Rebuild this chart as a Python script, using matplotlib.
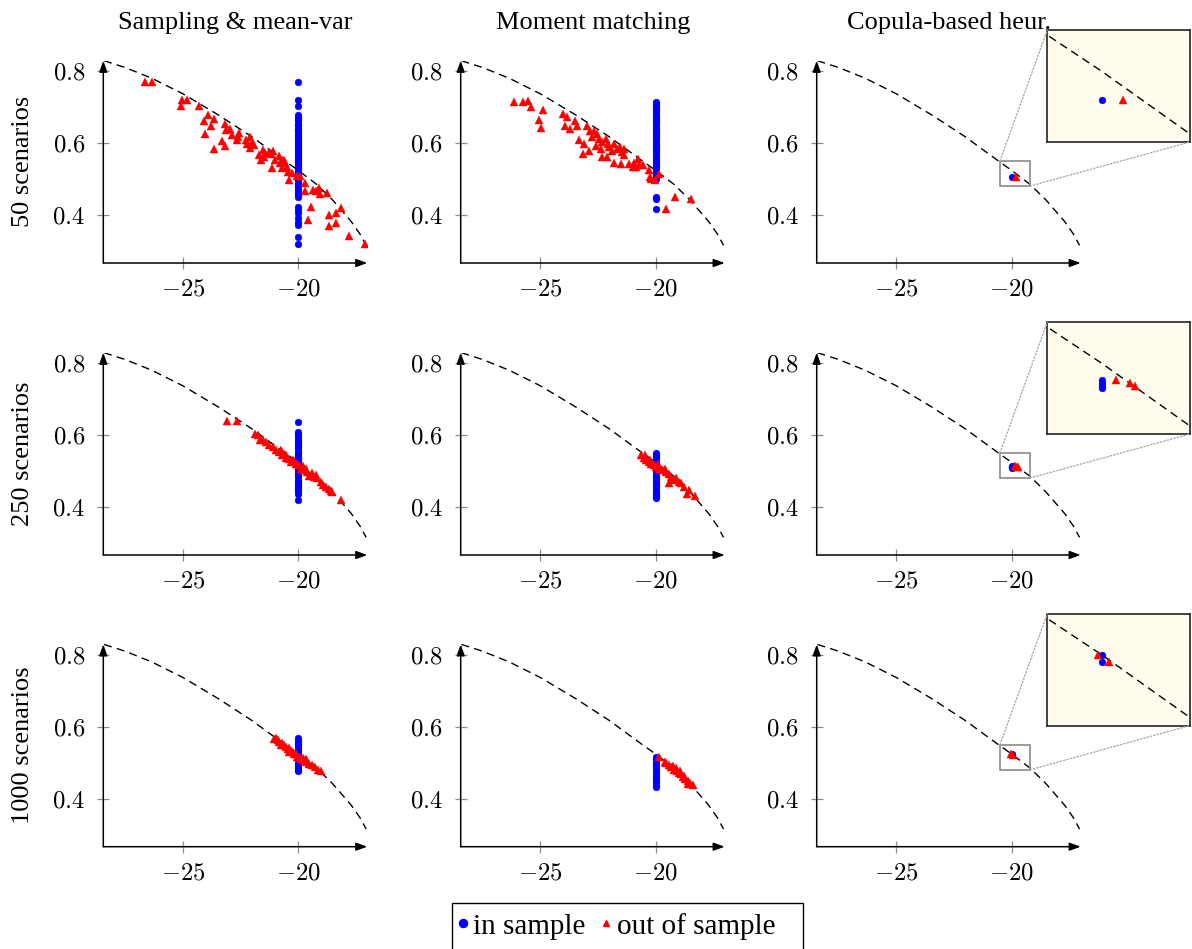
import numpy as np
import matplotlib
matplotlib.use("Agg")
import matplotlib.pyplot as plt
from matplotlib.patches import Rectangle, ConnectionPatch
from matplotlib.lines import Line2D

plt.rcParams['font.family'] = ['Liberation Serif', 'DejaVu Serif']
plt.rcParams['mathtext.fontset'] = 'cm'

# ---------------- data ----------------
col_titles = ["Sampling & mean-var", "Moment matching", "Copula-based heur."]
row_labels = ["50 scenarios", "250 scenarios", "1000 scenarios"]
x_ticks = [-25, -20]
y_ticks = [0.4, 0.6, 0.8]
x_limits = (-28.45, -17.0)
y_limits = (0.266, 0.829)
zoom_xlim = (-20.5, -19.2)
zoom_ylim = (0.48, 0.55)
in_sample_x = -20.0
legend_labels = ["in sample", "out of sample"]

frontier_x = [-28.42, -27.5, -26.34, -25.0, -23.46, -22.0, -21.0, -20.46, -20.0,
              -19.2, -18.5, -17.69, -17.3, -17.05]
frontier_y = [0.829, 0.810, 0.780, 0.737, 0.678, 0.617, 0.570, 0.545, 0.524,
              0.485, 0.441, 0.381, 0.345, 0.315]

# 50 scenarios, sampling & mean-var
mv50_in_y = [0.769, 0.721, 0.702, 0.677, 0.671, 0.666, 0.660, 0.654, 0.649, 0.643, 0.637,
             0.632, 0.626, 0.620, 0.615, 0.609, 0.603, 0.598, 0.592, 0.586, 0.581, 0.575,
             0.569, 0.564, 0.558, 0.552, 0.547, 0.541, 0.535, 0.530, 0.524, 0.518, 0.513,
             0.507, 0.501, 0.496, 0.490, 0.484, 0.479, 0.473, 0.467, 0.462, 0.456, 0.450,
             0.422, 0.413, 0.404, 0.390, 0.381, 0.371, 0.339, 0.318]
mv50_out_x = [-26.66, -26.33, -25.03, -24.82, -25.06, -24.32, -24.08, -23.90, -23.65, -23.78,
              -24.04, -23.64, -23.17, -23.12, -22.95, -22.86, -23.29, -23.16, -22.62, -22.55,
              -22.66, -22.24, -22.10, -22.20, -21.98, -22.10, -21.92, -21.70, -21.53, -21.42,
              -21.46, -21.27, -21.16, -21.10, -21.59, -21.13, -20.99, -20.81, -20.71, -20.78,
              -20.68, -20.57, -20.50, -20.42, -20.38, -20.28, -20.61, -20.07, -19.93, -19.69,
              -19.69, -19.36, -19.43, -19.57, -19.22, -19.08, -19.05, -18.75, -18.65, -18.68,
              -18.37, -18.37, -18.13, -17.80, -17.10]
mv50_out_y = [0.771, 0.771, 0.721, 0.721, 0.703, 0.703, 0.661, 0.677, 0.668, 0.646,
              0.626, 0.584, 0.652, 0.637, 0.640, 0.621, 0.606, 0.592, 0.617, 0.628,
              0.607, 0.607, 0.617, 0.598, 0.600, 0.587, 0.594, 0.566, 0.580, 0.572,
              0.561, 0.575, 0.569, 0.578, 0.554, 0.529, 0.554, 0.563, 0.554, 0.543,
              0.529, 0.543, 0.533, 0.519, 0.496, 0.517, 0.552, 0.507, 0.507, 0.489,
              0.467, 0.470, 0.422, 0.385, 0.467, 0.476, 0.459, 0.461, 0.399, 0.369,
              0.378, 0.406, 0.418, 0.341, 0.319]

# 50 scenarios, moment matching
mm50_in_y = [0.715, 0.709, 0.703, 0.697, 0.691, 0.685, 0.679, 0.673, 0.667, 0.661, 0.655,
             0.649, 0.643, 0.637, 0.631, 0.625, 0.619, 0.613, 0.607, 0.601, 0.595, 0.589,
             0.583, 0.577, 0.571, 0.565, 0.559, 0.553, 0.547, 0.541, 0.535, 0.529, 0.523,
             0.517, 0.511, 0.505, 0.499, 0.451, 0.443, 0.416]
mm50_out_x = [-26.12, -25.73, -25.51, -25.41, -24.88, -25.04, -24.96, -24.01, -23.83, -23.91,
              -23.73, -23.50, -23.40, -23.32, -23.12, -23.13, -22.89, -22.96, -22.86, -22.74,
              -22.67, -22.52, -22.45, -22.57, -22.38, -22.30, -22.16, -22.08, -22.01, -22.33,
              -22.11, -21.87, -21.79, -21.69, -21.55, -21.46, -21.36, -21.36, -21.79, -21.50,
              -21.17, -20.99, -20.92, -20.85, -20.77, -20.70, -20.55, -20.29, -20.19, -20.04,
              -19.85, -19.56, -19.17, -18.44, -20.26]
mm50_out_y = [0.713, 0.713, 0.717, 0.701, 0.692, 0.664, 0.642, 0.680, 0.673, 0.646,
              0.639, 0.660, 0.648, 0.609, 0.598, 0.570, 0.579, 0.646, 0.634, 0.616,
              0.634, 0.625, 0.611, 0.593, 0.584, 0.602, 0.611, 0.598, 0.589, 0.561,
              0.561, 0.579, 0.598, 0.584, 0.589, 0.575, 0.584, 0.567, 0.544, 0.541,
              0.541, 0.533, 0.544, 0.533, 0.556, 0.538, 0.538, 0.524, 0.501, 0.498,
              0.513, 0.417, 0.451, 0.443, 0.506]

# 50 scenarios, copula-based heuristic
cb50_in_y = [0.506]
cb50_out_x = [-19.81]
cb50_out_y = [0.506]

# 250 scenarios, sampling & mean-var
mv250_in_y = [0.636, 0.608, 0.602, 0.596, 0.590, 0.584, 0.578, 0.572, 0.566, 0.560, 0.554,
              0.548, 0.542, 0.536, 0.530, 0.524, 0.518, 0.512, 0.506, 0.500, 0.494, 0.488,
              0.482, 0.476, 0.470, 0.464, 0.458, 0.452, 0.446, 0.440, 0.437, 0.419]
mv250_out_x = [-23.08, -22.65, -21.86, -21.76, -21.66, -21.54, -21.40, -21.25, -21.11, -20.97,
               -20.82, -20.75, -20.71, -20.61, -20.53, -20.53, -20.39, -20.32, -20.24, -20.17,
               -20.10, -20.03, -19.96, -19.88, -19.81, -19.74, -19.67, -19.60, -19.52, -19.38,
               -19.31, -19.24, -19.17, -19.02, -18.92, -18.80, -18.66, -18.59, -18.52, -18.16]
mv250_out_y = [0.639, 0.639, 0.604, 0.599, 0.585, 0.587, 0.581, 0.571, 0.567, 0.557,
               0.553, 0.557, 0.544, 0.548, 0.537, 0.544, 0.534, 0.525, 0.530, 0.528,
               0.519, 0.520, 0.516, 0.506, 0.513, 0.502, 0.506, 0.497, 0.485, 0.494,
               0.483, 0.488, 0.479, 0.469, 0.460, 0.456, 0.451, 0.444, 0.442, 0.419]

# 250 scenarios, moment matching
mm250_in_y = [0.550, 0.544, 0.538, 0.532, 0.526, 0.520, 0.514, 0.508, 0.502, 0.496, 0.490,
              0.484, 0.478, 0.472, 0.466, 0.460, 0.454, 0.448, 0.442, 0.436, 0.430, 0.426]
mm250_out_x = [-20.62, -20.52, -20.47, -20.40, -20.29, -20.26, -20.19, -20.07, -19.97, -19.90,
               -19.83, -19.71, -19.61, -19.54, -19.43, -19.40, -19.32, -19.25, -19.11, -18.99,
               -18.89, -18.75, -18.65, -18.56, -18.28]
mm250_out_y = [0.544, 0.537, 0.544, 0.531, 0.525, 0.530, 0.520, 0.516, 0.511, 0.519,
               0.506, 0.502, 0.506, 0.497, 0.491, 0.467, 0.483, 0.476, 0.481, 0.469,
               0.465, 0.456, 0.437, 0.446, 0.430]

# 250 scenarios, copula-based heuristic
cb250_in_y = [0.514, 0.512, 0.510, 0.509]
cb250_out_x = [-19.87, -19.75, -19.70]
cb250_out_y = [0.514, 0.512, 0.510]

# 1000 scenarios, sampling & mean-var
mv1000_in_y = [0.569, 0.563, 0.557, 0.551, 0.545, 0.539, 0.533, 0.527, 0.521, 0.515, 0.509,
               0.503, 0.497, 0.491, 0.485, 0.480, 0.477]
mv1000_out_x = [-21.04, -20.97, -20.89, -20.82, -20.71, -20.61, -20.53, -20.46, -20.39, -20.32,
                -20.24, -20.17, -20.10, -19.96, -19.88, -19.81, -19.74, -19.67, -19.60, -19.52,
                -19.38, -19.27, -19.12, -19.02, -20.75, -20.39, -20.03, -19.67]
mv1000_out_y = [0.566, 0.569, 0.562, 0.557, 0.554, 0.548, 0.543, 0.538, 0.541, 0.532,
                0.529, 0.525, 0.523, 0.517, 0.511, 0.513, 0.506, 0.501, 0.504, 0.497,
                0.492, 0.488, 0.480, 0.478, 0.548, 0.529, 0.515, 0.510]

# 1000 scenarios, moment matching
mm1000_in_y = [0.517, 0.511, 0.505, 0.499, 0.493, 0.487, 0.481, 0.475, 0.469, 0.463, 0.457,
               0.451, 0.445, 0.439, 0.432]
mm1000_out_x = [-19.83, -19.61, -19.54, -19.43, -19.32, -19.25, -19.18, -19.08, -18.99, -18.89,
                -18.82, -18.71, -18.61, -18.51, -18.39, -19.11, -18.94, -18.75, -18.61]
mm1000_out_y = [0.517, 0.501, 0.499, 0.492, 0.488, 0.490, 0.480, 0.478, 0.471, 0.467,
                0.460, 0.455, 0.449, 0.443, 0.437, 0.486, 0.478, 0.464, 0.440]

# 1000 scenarios, copula-based heuristic
cb1000_in_y = [0.524, 0.520]
cb1000_out_x = [-20.04, -19.94]
cb1000_out_y = [0.524, 0.520]

panels = [
    [(mv50_in_y, mv50_out_x, mv50_out_y), (mm50_in_y, mm50_out_x, mm50_out_y), (cb50_in_y, cb50_out_x, cb50_out_y)],
    [(mv250_in_y, mv250_out_x, mv250_out_y), (mm250_in_y, mm250_out_x, mm250_out_y), (cb250_in_y, cb250_out_x, cb250_out_y)],
    [(mv1000_in_y, mv1000_out_x, mv1000_out_y), (mm1000_in_y, mm1000_out_x, mm1000_out_y), (cb1000_in_y, cb1000_out_x, cb1000_out_y)],
]

# ---------------- layout ----------------
W, H = 1192, 949
fig = plt.figure(figsize=(W / 100, H / 100), dpi=100)

col_left_px = [103.3, 460.7, 816.7]
row_bottom_px = [263.0, 555.0, 846.7]
ax_w_px, ax_h_px = 264.0, 202.3
inset_left_px, inset_w_px, inset_h_px = 1047.3, 142.7, 112.0
inset_top_px = [30.0, 322.0, 613.5]

BLUE = (0, 0, 1)
RED = (1, 0, 0)


def draw_content(ax, in_y, out_x, out_y, in_ms=4.9, out_ms=6.3):
    ax.plot(frontier_x, frontier_y, color='black', lw=1.0, ls=(0, (5.8, 3.8)), zorder=2)
    ax.plot(np.full(len(in_y), in_sample_x), in_y, ls='none', marker='o', ms=in_ms,
            mfc=BLUE, mec=BLUE, mew=0.3, zorder=3)
    ax.plot(out_x, out_y, ls='none', marker='^', ms=out_ms, mfc=RED, mec=RED, mew=0.3, zorder=4)


for r in range(3):
    for c in range(3):
        left = col_left_px[c] / W
        bottom = 1 - row_bottom_px[r] / H
        ax = fig.add_axes([left, bottom, ax_w_px / W, ax_h_px / H])
        in_y, out_x, out_y = panels[r][c]
        draw_content(ax, in_y, out_x, out_y)
        ax.set_xlim(*x_limits)
        ax.set_ylim(*y_limits)
        for s in ax.spines.values():
            s.set_visible(False)
        ax.set_xticks(x_ticks)
        ax.set_yticks(y_ticks)
        ax.set_xticklabels([f"${t:g}$" for t in x_ticks])
        ax.set_yticklabels([f"${t:g}$" for t in y_ticks])
        ax.tick_params(axis='both', direction='inout', length=9, width=0.9,
                       color='#8c8c8c', labelsize=17.8)
        ax.tick_params(axis='x', pad=7.0)
        ax.tick_params(axis='y', pad=8.5)
        ax.tick_params(top=False, right=False)
        arrow = dict(arrowstyle='-|>,head_length=0.55,head_width=0.2', lw=1.1,
                     color='black', shrinkA=0, shrinkB=0, mutation_scale=12)
        ax.annotate('', xy=(1.0, 0.0), xytext=(0.0, 0.0), xycoords='axes fraction',
                    textcoords='axes fraction', arrowprops=arrow, annotation_clip=False)
        ax.annotate('', xy=(0.0, 1.0), xytext=(0.0, 0.0), xycoords='axes fraction',
                    textcoords='axes fraction', arrowprops=arrow, annotation_clip=False)

        if c == 2:
            ax.add_patch(Rectangle((zoom_xlim[0], zoom_ylim[0]), zoom_xlim[1] - zoom_xlim[0],
                                   zoom_ylim[1] - zoom_ylim[0], fill=False,
                                   ec='#8a8a8a', lw=1.2, zorder=5))
            ins = fig.add_axes([inset_left_px / W, 1 - (inset_top_px[r] + inset_h_px) / H,
                                inset_w_px / W, inset_h_px / H])
            ins.set_facecolor('#fffcee')
            draw_content(ins, in_y, out_x, out_y)
            ins.set_xlim(*zoom_xlim)
            ins.set_ylim(*zoom_ylim)
            ins.set_xticks([])
            ins.set_yticks([])
            for s in ins.spines.values():
                s.set_color('#222222')
                s.set_linewidth(1.2)
            for xy_a, xy_b in [((zoom_xlim[0], zoom_ylim[1]), (0, 1)),
                               ((zoom_xlim[1], zoom_ylim[0]), (1, 0))]:
                con = ConnectionPatch(xyA=xy_a, coordsA=ax.transData,
                                      xyB=xy_b, coordsB=ins.transAxes,
                                      color='#aaaaaa', lw=1.0, ls=(0, (1, 1.5)))
                fig.add_artist(con)

# titles and row labels
col_center_px = [col_left_px[c] + ax_w_px / 2 for c in range(3)]
for c in range(3):
    fig.text(col_center_px[c] / W, 1 - 28.5 / H, col_titles[c], ha='center',
             va='baseline', fontsize=19)
for r in range(3):
    yc = row_bottom_px[r] - ax_h_px / 2
    fig.text(23 / W, 1 - yc / H, row_labels[r], rotation=90, ha='center',
             va='center', fontsize=19)

# legend (frame drawn separately; it runs past the bottom edge like the reference)
handles = [Line2D([], [], ls='none', marker='o', ms=5.8, mfc=BLUE, mec=BLUE),
           Line2D([], [], ls='none', marker='^', ms=5.0, mfc=RED, mec=RED)]
leg = fig.legend(handles, legend_labels, loc='upper left',
                 bbox_to_anchor=(448.7 / W, 1 - 905.3 / H), ncol=2, frameon=False,
                 fontsize=21, handlelength=0.45, handletextpad=0.15, columnspacing=0.48,
                 borderpad=0.25, borderaxespad=0.0)
fig.add_artist(Rectangle((451.7 / W, -0.01), (803.3 - 451.7) / W, 0.01 + (949 - 903.3) / H,
                         transform=fig.transFigure, fill=False, ec='black', lw=1.0))

fig.savefig("out.png", dpi=100)
